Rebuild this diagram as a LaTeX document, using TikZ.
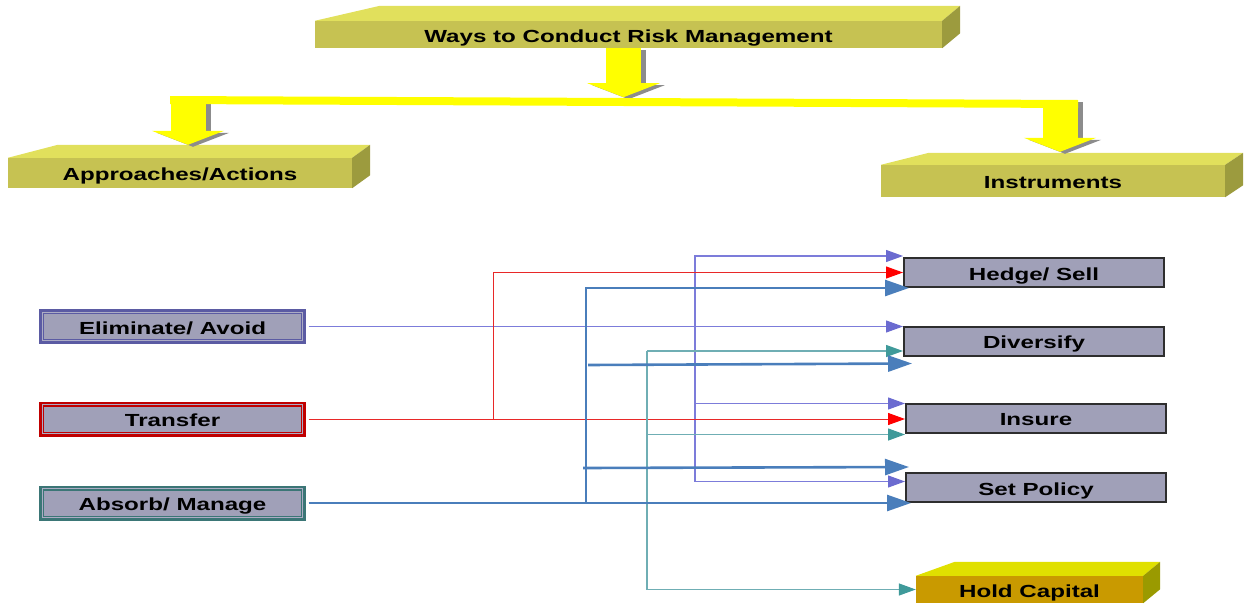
\documentclass[tikz,border=0pt]{standalone}
\usepackage{fontspec}
\setmainfont{Liberation Sans}
\usepackage{graphicx}
\usetikzlibrary{arrows.meta,calc}
\definecolor{frontY}{HTML}{C6C252}
\definecolor{topY}{HTML}{E1E05C}
\definecolor{sideY}{HTML}{9C9B3E}
\definecolor{holdF}{HTML}{C99A00}
\definecolor{holdT}{HTML}{E0E000}
\definecolor{holdS}{HTML}{9A9A00}
\definecolor{boxfill}{HTML}{A0A0B8}
\definecolor{boxinner}{HTML}{ACACC4}
\definecolor{elimB}{HTML}{5B5BA3}
\definecolor{transB}{HTML}{C00000}
\definecolor{absB}{HTML}{3B7676}
\definecolor{rboxB}{HTML}{2E2E2E}
\definecolor{purpL}{HTML}{7C7CDA}
\definecolor{purpD}{HTML}{6B6BD0}
\definecolor{redL}{HTML}{E82828}
\definecolor{redD}{HTML}{FF0000}
\definecolor{tealL}{HTML}{6FAEB4}
\definecolor{tealD}{HTML}{3F9A9A}
\definecolor{blueL}{HTML}{4A7EBB}
\definecolor{yel}{HTML}{FFFF00}
\definecolor{yshad}{HTML}{8C8C8C}
\newcommand{\wtxt}[1]{\scalebox{1.38}[1]{#1}}
\begin{document}
\begin{tikzpicture}[x=1pt,y=-1pt,
  every node/.style={font=\fontsize{17.5}{20}\selectfont\bfseries, text=black, inner sep=0pt, text height=15pt, text depth=0pt},
  front3d/.style={fill=frontY},
  leftbox/.style={fill=boxfill, line width=5pt, minimum width=262pt, minimum height=30pt},
  rightbox/.style={fill=boxfill, draw=rboxB, line width=2pt, minimum width=260pt, minimum height=29pt},
  yarr/.style={draw=yel, line width=35pt, -{Triangle[length=14pt,width=72pt]}},
  ysh/.style={draw=yshad, line width=35pt, -{Triangle[length=14pt,width=72pt]}, transform canvas={shift={(5,2)}}},
  purpA/.style={draw=purpL, line width=1.2pt, -{Triangle[length=17pt,width=12pt,color=purpD]}},
  redA/.style={draw=redL, line width=1pt, -{Triangle[length=17pt,width=12pt,color=redD]}},
  tealA/.style={draw=tealL, line width=1.3pt, -{Triangle[length=17pt,width=12pt,color=tealD]}},
  blueA/.style={draw=blueL, line width=2.6pt, -{Triangle[length=24pt,width=16pt,color=blueL]}},
  innerline/.style={draw=boxinner, line width=0.8pt}
]
\useasboundingbox (0,0) rectangle (1244,605);

% ---- 3D header boxes ----
\node[front3d, minimum width=627pt, minimum height=27pt] (top) at (628.5,34.5) {\wtxt{Ways to Conduct Risk Management}};
\fill[topY] (top.north west) -- ++(65,-15) -- ($(top.north east)+(18,-15)$) -- (top.north east) -- cycle;
\fill[sideY] (top.north east) -- ++(18,-15) -- ($(top.south east)+(18,-15)$) -- (top.south east) -- cycle;

\node[front3d, minimum width=344pt, minimum height=30pt] (appr) at (180,173) {\wtxt{Approaches/Actions}};
\fill[topY] (appr.north west) -- ++(50,-13) -- ($(appr.north east)+(18,-13)$) -- (appr.north east) -- cycle;
\fill[sideY] (appr.north east) -- ++(18,-13) -- ($(appr.south east)+(18,-13)$) -- (appr.south east) -- cycle;

\node[front3d, minimum width=344pt, minimum height=32pt] (instr) at (1053,181) {\wtxt{Instruments}};
\fill[topY] (instr.north west) -- ++(48,-12) -- ($(instr.north east)+(18,-12)$) -- (instr.north east) -- cycle;
\fill[sideY] (instr.north east) -- ++(18,-12) -- ($(instr.south east)+(18,-12)$) -- (instr.south east) -- cycle;

\node[fill=holdF, minimum width=227pt, minimum height=27pt] (hold) at (1029.5,589.5) {\wtxt{Hold Capital}};
\fill[holdT] (hold.north west) -- ++(39,-14) -- ($(hold.north east)+(17,-14)$) -- (hold.north east) -- cycle;
\fill[holdS] (hold.north east) -- ++(17,-14) -- ($(hold.south east)+(17,-14)$) -- (hold.south east) -- cycle;

% ---- yellow connectors ----
\coordinate (barL) at (170,96);
\coordinate (barR) at (1078,100);
\draw[ysh] ($(top.south)+(-5,0)$) -- ($(top.south)+(-5,49)$);
\draw[ysh] (188,96) -- ($(appr.north)+(8,-13)$);
\draw[ysh] (1060,100) -- ($(instr.north)+(7,-13)$);
\fill[yel] (barL) -- (barR) -- ++(0,8) -- ($(barL)+(0,8)$) -- cycle;
\draw[yarr] ($(top.south)+(-5,0)$) -- ($(top.south)+(-5,49)$);
\draw[yarr] (188,96) -- ($(appr.north)+(8,-13)$);
\draw[yarr] (1060,100) -- ($(instr.north)+(7,-13)$);

% ---- left boxes ----
\node[leftbox, draw=elimB] (elim) at (172.5,326.5) {\wtxt{Eliminate/ Avoid}};
\node[leftbox, draw=transB] (trans) at (172.5,419) {\wtxt{Transfer}};
\node[leftbox, draw=absB] (abs) at (172.5,503) {\wtxt{Absorb/ Manage}};
\foreach \n in {elim,trans,abs}
  \draw[innerline] ($(\n.north west)+(3.2,3.2)$) rectangle ($(\n.south east)+(-3.2,-3.2)$);

% ---- right boxes ----
\node[rightbox] (hedge) at (1034,272.5) {\wtxt{Hedge/ Sell}};
\node[rightbox] (div) at (1034,341) {\wtxt{Diversify}};
\node[rightbox] (ins) at (1036,418) {\wtxt{Insure}};
\node[rightbox] (setp) at (1036,487.5) {\wtxt{Set Policy}};

% ---- connectors ----
% purple (Eliminate/Avoid)
\coordinate (pj) at (695,326.5);
\draw[purpA, shorten <=2.5pt] (elim.east) -- (elim.east -| div.west);
\draw[purpA] (pj) |- ($(hedge.north west)+(0,-1)$);
\draw[purpA] (pj) |- ($(ins.north west)+(0,1)$);
\draw[purpA] (pj) |- ($(setp.west)+(0,-6)$);
% red (Transfer)
\coordinate (rj) at (493,419);
\draw[redA, shorten <=2.5pt] (trans.east) -- (trans.east -| ins.west);
\draw[redA] (rj) |- (hedge.west);
% teal
\coordinate (tj) at (647,351);
\draw[tealA] (tj) -- (tj -| div.west);
\draw[tealA] (tj) |- ($(ins.south west)+(0,1)$);
\draw[tealA] (tj) |- (hold.west);
% blue (Absorb/Manage)
\coordinate (bj) at (586,503);
\coordinate (b2) at (588,365);
\coordinate (b3) at (583,468);
\draw[blueA, shorten <=2.5pt] (abs.east) -- ($(abs.east -| setp.west)+(6,0)$);
\draw[blueA] (bj) |- ($(hedge.south west)+(6,0)$);
\draw[blueA] (b2) -- ($(div.south west)+(9,7)$);
\draw[blueA] (b3) -- ($(setp.north west)+(4,-5)$);
\end{tikzpicture}
\end{document}
